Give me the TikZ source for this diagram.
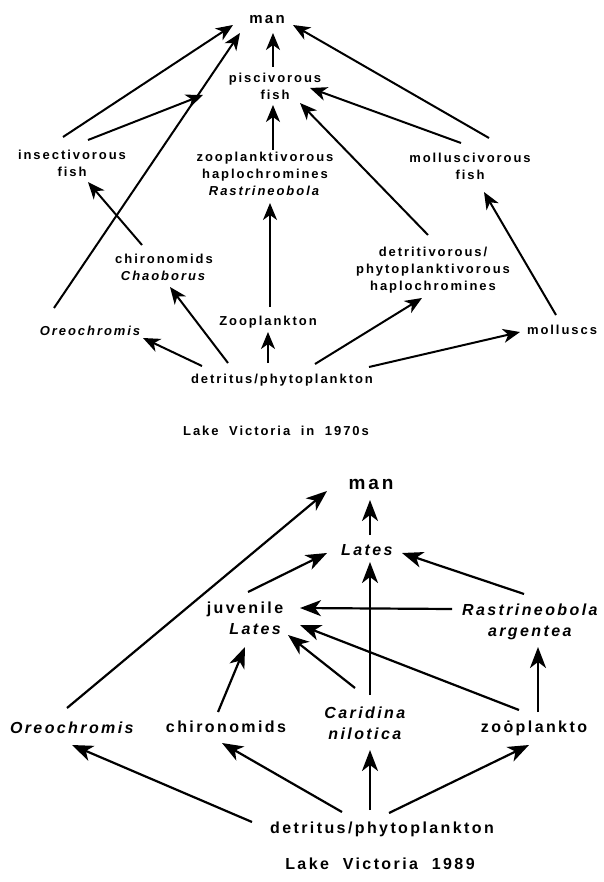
\documentclass[tikz,border=0pt]{standalone}
\usepackage{fontspec}
\setmainfont{Liberation Sans}[LetterSpace=15]
\usetikzlibrary{arrows.meta,calc}
\tikzset{
  lbl/.style={font=\fontsize{13}{17}\selectfont\bfseries, align=center, inner sep=0pt},
  lblb/.style={font=\fontsize{16}{21}\selectfont\bfseries, align=center, inner sep=0pt},
  arr/.style={line width=2pt, -{Stealth[length=17pt,width=14pt,inset=5pt]}},
  arrb/.style={line width=2.2pt, -{Stealth[length=21pt,width=16pt,inset=6pt]}},
}
\begin{document}
\begin{tikzpicture}[x=1pt,y=-1pt]
\useasboundingbox[fill=white] (0,0) rectangle (604,882);
% ---------- top diagram ----------
\node[lbl, font=\fontsize{15}{18}\selectfont\bfseries] (man1) at (267,20) {man};
\node[lbl] (pisc) at (275,86) {piscivorous\\fish};
\node[lbl] (zpl) at (265,174) {zooplanktivorous\\haplochromines\\\textit{Rastrineobola}};
\node[lbl] (insf) at (72,163) {insectivorous\\fish};
\node[lbl] (molf) at (470,166) {molluscivorous\\fish};
\node[lbl] (chir1) at (164,267) {chironomids\\\textit{Chaoborus}};
\node[lbl] (detv) at (433,270) {detritivorous/\\phytoplanktivorous\\haplochromines};
\node[lbl] (zoo1) at (268,322) {Zooplankton};
\node[lbl] (oreo1) at (91,331) {\textit{Oreochromis}};
\node[lbl] (moll) at (562,330) {molluscs};
\node[lbl] (det1) at (282,380) {detritus/phytoplankton};
\node[lbl] (title1) at (276,431) {Lake\hspace{5pt} Victoria\hspace{5pt} in\hspace{5pt} 1970s};

\draw[arr] ($(pisc)+(-2,-19)$) -- ($(man1)+(6,13)$);
\draw[arr] ($(zpl)+(8,-24)$) -- ($(pisc)+(-2,19)$);
\draw[arr] ($(zoo1)+(2,-15)$) -- ($(zpl)+(5,29)$);
\draw[arr] ($(det1)+(-14,-17)$) -- ($(zoo1)+(0,10)$);
\draw[arr] ($(det1)+(-80,-14)$) -- ($(oreo1)+(52,7)$);
\draw[arr] ($(det1)+(-54,-17)$) -- ($(chir1)+(6,20)$);
\draw[arr] ($(chir1)+(-22,-22)$) -- ($(insf)+(16,19)$);
\draw[arr] ($(oreo1)+(-37,-23)$) -- ($(man1)+(-27,13)$);
\draw[arr] ($(insf)+(-9,-26)$) -- ($(man1)+(-34,5)$);
\draw[arr] ($(insf)+(16,-23)$) -- ($(pisc)+(-72,9)$);
\draw[arr] ($(molf)+(19,-28)$) -- ($(man1)+(26,5)$);
\draw[arr] ($(molf)+(-9,-23)$) -- ($(pisc)+(35,2)$);
\draw[arr] ($(detv)+(-5,-35)$) -- ($(pisc)+(25,17)$);
\draw[arr] ($(det1)+(33,-16)$) -- ($(detv)+(-11,28)$);
\draw[arr] ($(det1)+(87,-13)$) -- ($(moll)+(-42,2)$);
\draw[arr] ($(moll)+(-6,-15)$) -- ($(molf)+(14,26)$);

% ---------- bottom diagram ----------
\node[lblb, font=\fontsize{19}{22}\selectfont\bfseries] (man2) at (371,484) {man};
\node[lblb] (lates) at (368,550) {\textit{Lates}};
\node[lblb, align=right] (juv) at (245,618) {juvenile\\\textit{Lates}};
\node[lblb] (rast) at (531,622) {\textit{Rastrineobola}\\\textit{argentea}};
\node[lblb] (oreo2) at (73,728) {\textit{Oreochromis}};
\node[lblb] (chir2) at (226,727) {chironomids};
\node[lblb] (car) at (366,723) {\textit{Caridina}\\\textit{nilotica}};
\node[lblb] (zoo2) at (534,728) {zoȯplankto};
\node[lblb] (det2) at (382,829) {detritus/phytoplankton};
\node[lblb] (title2) at (380,864) {Lake\hspace{7pt} Victoria\hspace{7pt} 1989};

\draw[arrb] ($(lates)+(2,-15)$) -- ($(man2)+(-1,16)$);
\draw[arrb] ($(juv)+(3,-26)$) -- ($(lates)+(-41,3)$);
\draw[arrb] ($(rast)+(-7,-28)$) -- ($(lates)+(34,3)$);
\draw[arrb] ($(car)+(4,-28)$) -- ($(lates)+(2,12)$);
\draw[arrb] ($(rast)+(-79,-13)$) -- ($(juv)+(55,-10)$);
\draw[arrb] ($(zoo2)+(-15,-18)$) -- ($(juv)+(55,7)$);
\draw[arrb] ($(car)+(-11,-35)$) -- ($(juv)+(43,17)$);
\draw[arrb] ($(chir2)+(-8,-15)$) -- ($(juv)+(0,29)$);
\draw[arrb] ($(oreo2)+(-6,-20)$) -- ($(man2)+(-44,7)$);
\draw[arrb] ($(zoo2)+(4,-16)$) -- ($(rast)+(7,25)$);
\draw[arrb] ($(det2)+(-12,-19)$) -- ($(car)+(4,27)$);
\draw[arrb] ($(det2)+(7,-16)$) -- ($(zoo2)+(-5,17)$);
\draw[arrb] ($(det2)+(-40,-17)$) -- ($(chir2)+(-4,16)$);
\draw[arrb] ($(det2)+(-130,-7)$) -- ($(oreo2)+(-1,17)$);
\end{tikzpicture}
\end{document}
